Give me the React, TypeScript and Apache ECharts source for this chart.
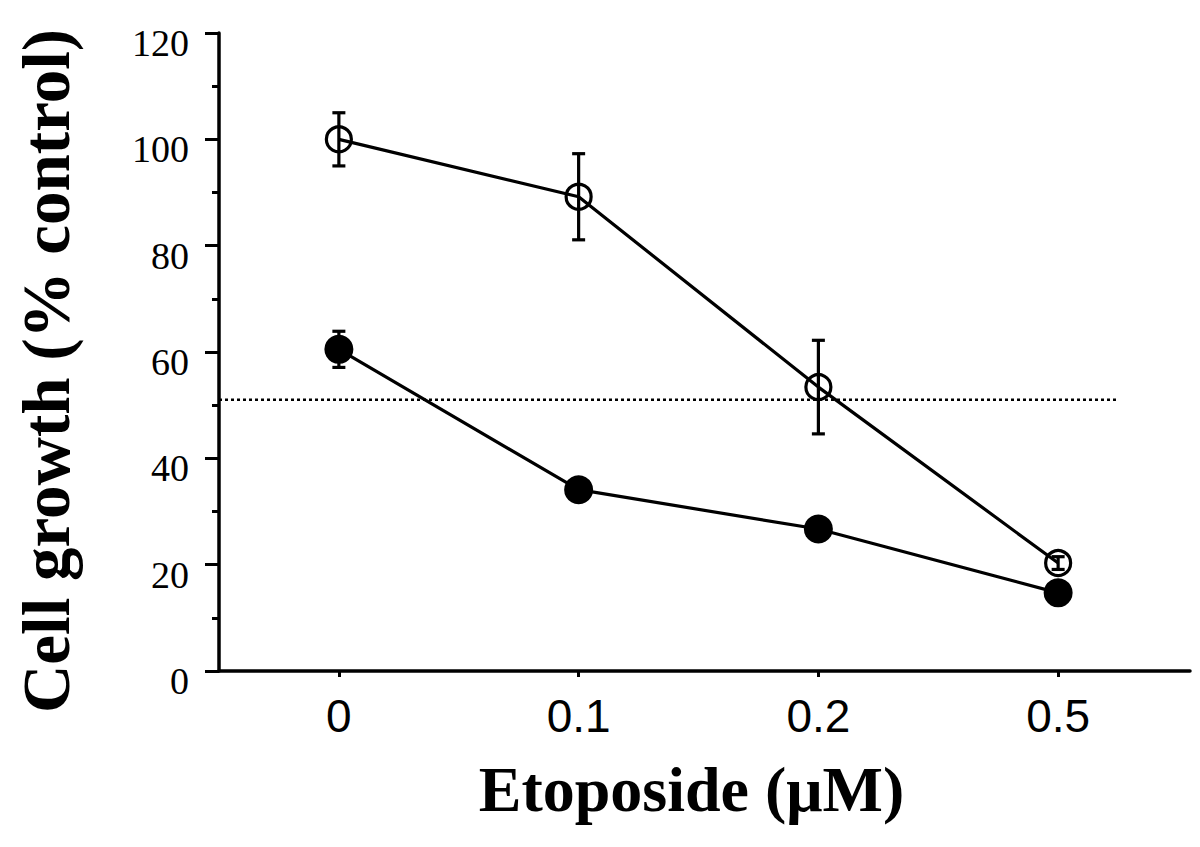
import React, { useEffect, useRef } from "react";
import * as echarts from "echarts";

// Data
const categories = ["0", "0.1", "0.2", "0.5"]; // etoposide (µM)
const catPositions = [0, 1, 2, 3];
const openValues = [100, 89.2, 53.4, 20.3];
const openErrors = [5, 8.1, 8.8, 1.2];
const filledValues = [60.5, 34.1, 26.7, 14.7];
const filledErrors = [3.4, 0, 0, 0];
const refLineValue = 51;
const refLineExtent = [-0.5, 3.25];
const yTicks = { min: 0, max: 120, interval: 20 };

const errorData = (vals: number[], errs: number[]) =>
  vals
    .map((v, i) => [catPositions[i], v - errs[i], v + errs[i], errs[i]])
    .filter((d) => d[3] > 0);

const errorSeries = (vals: number[], errs: number[], z: number) => ({
  type: "custom",
  z,
  silent: true,
  data: errorData(vals, errs),
  renderItem: (params: any, api: any) => {
    const x = api.value(0);
    const lo = api.coord([x, api.value(1)]);
    const hi = api.coord([x, api.value(2)]);
    const cap = 6.5;
    const style = { stroke: "#000", lineWidth: 3.2, fill: "none" };
    return {
      type: "group",
      children: [
        { type: "line", shape: { x1: lo[0], y1: lo[1], x2: hi[0], y2: hi[1] }, style },
        { type: "line", shape: { x1: lo[0] - cap, y1: lo[1], x2: lo[0] + cap, y2: lo[1] }, style },
        { type: "line", shape: { x1: hi[0] - cap, y1: hi[1], x2: hi[0] + cap, y2: hi[1] }, style },
      ],
    };
  },
});

export default function App() {
  const ref = useRef<HTMLDivElement>(null);
  useEffect(() => {
    if (!ref.current) return;
    const chart = echarts.init(ref.current, undefined, { renderer: "svg" });
    chart.setOption({
      animation: false,
      backgroundColor: "#fff",
      grid: { left: 219, right: 10, top: 33, bottom: 176, containLabel: false },
      xAxis: {
        type: "value",
        min: -0.5,
        max: 3.55,
        splitLine: { show: false },
        axisLine: { show: true, onZero: false, lineStyle: { color: "#000", width: 3.5 } },
        axisTick: { show: true, customValues: catPositions, length: 6, lineStyle: { color: "#000", width: 3 } },
        axisLabel: {
          customValues: catPositions,
          formatter: (v: number) => categories[Math.round(v)] ?? "",
          fontFamily: "Liberation Sans, Arial, sans-serif",
          fontSize: 46,
          color: "#000",
          margin: 22,
        },
        name: "Etoposide (μM)",
        nameLocation: "middle",
        nameGap: 86,
        nameTextStyle: {
          fontFamily: "Liberation Serif, Times New Roman, serif",
          fontWeight: "bold",
          fontSize: 64,
          color: "#000",
          padding: [0, 26, 0, 0],
        },
      },
      yAxis: {
        type: "value",
        min: yTicks.min,
        max: yTicks.max,
        interval: yTicks.interval,
        splitLine: { show: false },
        axisLine: { show: true, onZero: false, lineStyle: { color: "#000", width: 3.5 } },
        axisTick: { show: true, length: 14, lineStyle: { color: "#000", width: 3 } },
        minorTick: { show: true, splitNumber: 2, length: 7, lineStyle: { color: "#000", width: 3 } },
        axisLabel: {
          fontFamily: "Liberation Serif, Times New Roman, serif",
          fontSize: 38,
          color: "#000",
          margin: 30,
          verticalAlign: "top",
          lineHeight: 20,
        },
        name: "Cell growth (% control)",
        nameLocation: "middle",
        nameGap: 140,
        nameTextStyle: {
          fontFamily: "Liberation Serif, Times New Roman, serif",
          fontWeight: "bold",
          fontSize: 67,
          color: "#000",
          padding: [0, 38, 0, 0],
        },
      },
      series: [
        {
          type: "line",
          silent: true,
          z: 1,
          symbol: "none",
          data: refLineExtent.map((x) => [x, refLineValue]),
          lineStyle: { color: "#000", width: 2.5, type: [3, 3] },
        },
        errorSeries(openValues, openErrors, 2),
        errorSeries(filledValues, filledErrors, 2),
        {
          type: "line",
          z: 3,
          data: catPositions.map((x, i) => [x, openValues[i]]),
          symbol: "circle",
          symbolSize: 25,
          showSymbol: true,
          lineStyle: { color: "#000", width: 3.2 },
          itemStyle: { color: "transparent", borderColor: "#000", borderWidth: 3.2 },
        },
        {
          type: "line",
          z: 4,
          data: catPositions.map((x, i) => [x, filledValues[i]]),
          symbol: "circle",
          symbolSize: 29,
          showSymbol: true,
          lineStyle: { color: "#000", width: 3.2 },
          itemStyle: { color: "#000", borderWidth: 0 },
        },
      ],
    });
    return () => chart.dispose();
  }, []);
  return (
    <div
      ref={ref}
      style={{ position: "fixed", left: 0, top: 0, width: 1200, height: 847, background: "#fff" }}
    />
  );
}
